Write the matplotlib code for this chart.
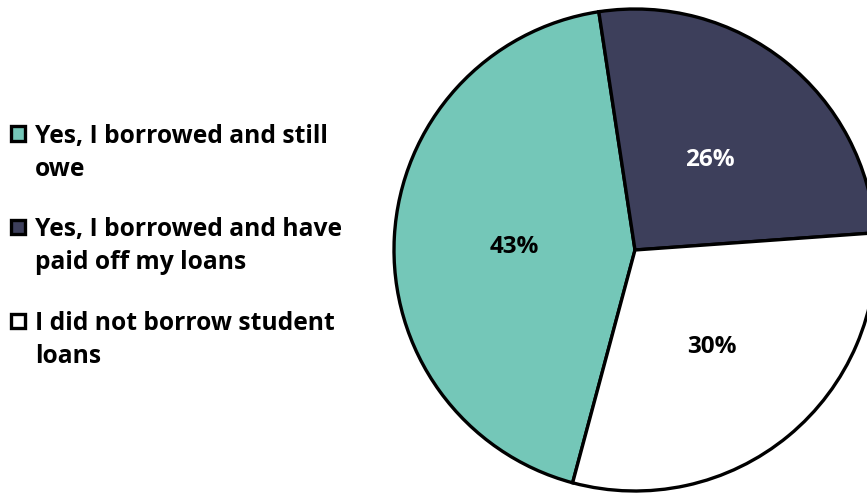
"""
Student loan borrowing pie chart.
"""
import matplotlib.pyplot as plt
from matplotlib.patches import Rectangle

LABELS = [
    "Yes, I borrowed and still\nowe",
    "Yes, I borrowed and have\npaid off my loans",
    "I did not borrow student\nloans",
]
VALUES = [43, 26, 30]
COLORS = ["#74C7B8", "#3D3F5B", "#FFFFFF"]
PCT_COLORS = ["#000000", "#FFFFFF", "#000000"]

W, H = 867, 494
plt.rcParams["font.family"] = ["Open Sans", "DejaVu Sans"]

fig = plt.figure(figsize=(W / 100, H / 100), dpi=100)

# pie centre (635, 250) px, radius 241 px
cx, cy, r = 635, 250, 241
ax = fig.add_axes([(cx - r) / W, (H - cy - r) / H, 2 * r / W, 2 * r / H])
wedges, texts, autotexts = ax.pie(
    VALUES,
    colors=COLORS,
    startangle=-105,
    counterclock=False,
    autopct="%1.0f%%",
    pctdistance=0.5,
    wedgeprops={"edgecolor": "black", "linewidth": 2.4},
    textprops={"fontsize": 17.5, "fontweight": "bold"},
)
for w in wedges:
    w.set_clip_on(False)
for t, c in zip(autotexts, PCT_COLORS):
    t.set_color(c)
    x, y = t.get_position()
    t.set_position((x, y - 4 / r))
ax.set_xlim(-1, 1)
ax.set_ylim(-1, 1)
ax.set_aspect("equal")

# legend drawn by hand so the marker sits on the first line
y0, step = 133.5, 93.5
for i, (label, color) in enumerate(zip(LABELS, COLORS)):
    y = y0 + i * step
    sq = 14
    fig.patches.append(
        Rectangle((11 / W, (H - y - sq / 2) / H), sq / W, sq / H,
                  transform=fig.transFigure, facecolor=color,
                  edgecolor="black", linewidth=2.4)
    )
    fig.text(35 / W, (H - y + 10) / H, label, ha="left", va="top",
             fontsize=17.7, fontweight="bold", linespacing=1.43)

fig.savefig("out.png", dpi=100)
